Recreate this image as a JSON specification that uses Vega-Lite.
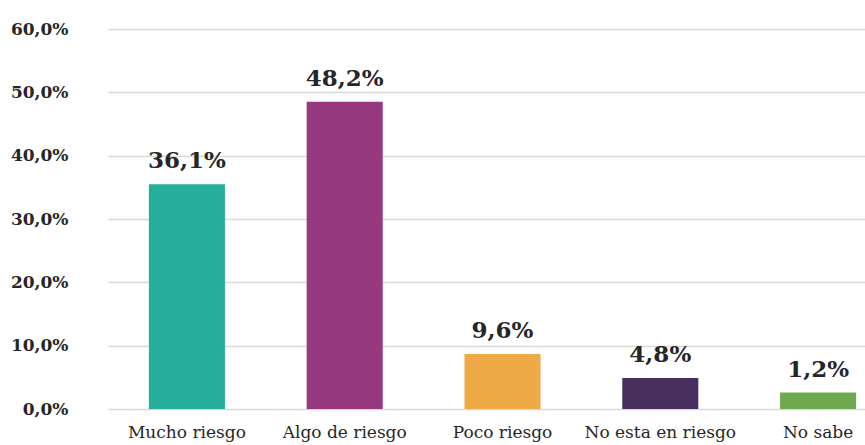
{
  "$schema": "https://vega.github.io/schema/vega-lite/v6.json",
  "autosize": "none",
  "padding": {"left": 101, "top": 29, "right": 0, "bottom": 36},
  "width": 764,
  "height": 380,
  "background": "white",
  "config": {"view": {"stroke": null}},
  "data": {
    "values": [
      {"categoria": "Mucho riesgo", "valor": 35.5, "etiqueta": "36,1%"},
      {"categoria": "Algo de riesgo", "valor": 48.5, "etiqueta": "48,2%"},
      {"categoria": "Poco riesgo", "valor": 8.7, "etiqueta": "9,6%"},
      {"categoria": "No esta en riesgo", "valor": 4.9, "etiqueta": "4,8%"},
      {"categoria": "No sabe", "valor": 2.6, "etiqueta": "1,2%"}
    ]
  },
  "encoding": {
    "x": {
      "field": "categoria",
      "type": "nominal",
      "sort": null,
      "scale": {"range": [7, 796], "paddingInner": 0.518, "paddingOuter": 0.259},
      "axis": {
        "title": null,
        "domain": false,
        "ticks": false,
        "labelAngle": 0,
        "labelFont": "DejaVu Serif",
        "labelFontSize": 17,
        "labelColor": "#262626",
        "labelBaseline": "alphabetic",
        "labelPadding": 28
      }
    },
    "y": {
      "field": "valor",
      "type": "quantitative",
      "scale": {"domain": [0, 60]},
      "axis": {
        "title": null,
        "domain": false,
        "ticks": false,
        "values": [0, 10, 20, 30, 40, 50, 60],
        "labelExpr": "replace(format(datum.value, '.1f'), '.', ',') + '%'",
        "labelFont": "DejaVu Serif",
        "labelFontSize": 17,
        "labelFontWeight": "bold",
        "labelColor": "#262626",
        "labelPadding": 33,
        "gridColor": "#D9D9D9",
        "gridWidth": 1.3
      }
    }
  },
  "layer": [
    {
      "mark": {"type": "bar"},
      "encoding": {
        "color": {
          "field": "categoria",
          "type": "nominal",
          "sort": null,
          "legend": null,
          "scale": {
            "domain": ["Mucho riesgo", "Algo de riesgo", "Poco riesgo", "No esta en riesgo", "No sabe"],
            "range": ["#26AF9C", "#97397F", "#EEAA47", "#472F60", "#6DAA4F"]
          }
        }
      }
    },
    {
      "mark": {
        "type": "text",
        "baseline": "alphabetic",
        "dy": -16,
        "font": "DejaVu Serif",
        "fontSize": 23,
        "fontWeight": "bold",
        "color": "#262626"
      },
      "encoding": {
        "text": {"field": "etiqueta"}
      }
    }
  ]
}
